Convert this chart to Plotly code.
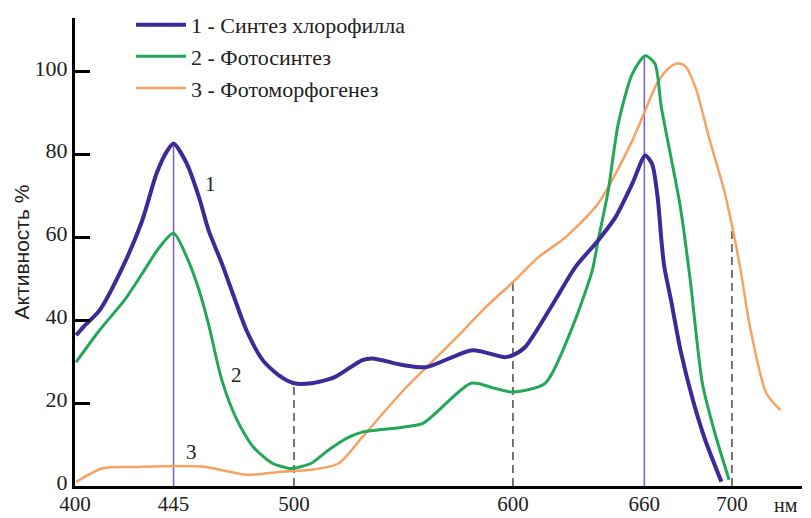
import plotly.graph_objects as go

# ---- data (wavelength nm, activity %) ----
chl_x = [400.5, 404.0, 411.2, 422.5, 430.7, 437.2, 442.1, 445.0, 451.1, 456.7, 461.0, 467.1, 472.7,
         478.3, 485.7, 493.1, 500.0, 507.9, 518.6, 531.2, 535.8, 549.8, 560.5, 581.4, 596.3, 600.0,
         605.5, 619.2, 628.4, 638.9, 646.7, 654.5, 660.4, 663.5, 666.1, 667.8, 669.1, 672.2, 676.5,
         682.2, 687.8, 695.2]
chl_y = [36.4, 38.5, 42.4, 53.7, 64.1, 75.4, 80.9, 82.7, 77.8, 69.6, 61.7, 53.7, 45.5,
         37.6, 30.4, 26.7, 24.8, 24.8, 26.3, 30.4, 30.8, 29.2, 28.7, 32.8, 31.1, 31.6,
         33.5, 44.8, 52.8, 59.3, 64.8, 73.0, 79.8, 77.8, 69.6, 59.3, 53.0, 44.8, 32.8,
         20.7, 11.1, 1.0]

ps_x = [400.5, 411.2, 422.5, 430.7, 438.5, 445.0, 451.1, 456.7, 461.0, 467.1, 474.0, 481.4, 490.1,
        497.4, 500.0, 507.9, 515.8, 525.1, 531.2, 549.8, 559.1, 580.9, 591.6, 600.0, 614.7, 627.1,
        636.2, 638.9, 643.5, 648.1, 654.5, 660.4, 664.8, 667.8, 672.2, 676.5, 680.9, 686.5, 692.2,
        698.7]
ps_y = [29.9, 37.6, 44.8, 51.3, 57.6, 61.0, 55.2, 47.2, 39.0, 25.5, 15.9, 9.4, 5.5,
        4.3, 4.3, 5.5, 8.7, 11.8, 13.0, 14.2, 15.2, 24.8, 23.6, 22.7, 24.8, 38.3,
        52.0, 59.3, 71.3, 87.5, 99.5, 103.9, 102.0, 91.3, 79.3, 67.2, 50.0, 24.8, 12.8,
        1.5]

pm_x = [400.5, 412.7, 428.9, 445.4, 459.7, 478.3, 493.1, 507.9, 520.5, 531.2, 549.8, 573.0, 588.4,
        600.0, 611.5, 623.9, 638.9, 654.5, 666.1, 671.0, 675.0, 678.5, 683.5, 689.6, 696.5, 700.0,
        704.0, 708.3, 715.7, 722.2]
pm_y = [1.0, 4.3, 4.6, 4.8, 4.6, 2.7, 3.4, 3.9, 5.5, 11.8, 23.0, 35.2, 43.6,
        49.2, 55.2, 60.0, 68.2, 83.4, 97.5, 100.8, 102.0, 101.5, 96.0, 84.0, 71.3, 63.0,
        52.0, 38.3, 22.4, 18.3]

series_names = ["1 - Синтез хлорофилла", "2 - Фотосинтез", "3 - Фотоморфогенез"]

# reference verticals: x, top value, kind
ref_x = [445, 500, 600, 660, 700]
ref_top = [82.7, 24.8, 49.6, 103.9, 62.4]
ref_kind = ["solid", "dash", "dash", "solid", "dash"]

x_ticks = [400, 445, 500, 600, 660, 700]
y_ticks = [0, 20, 40, 60, 80, 100]

curve_labels = ["1", "2", "3"]
curve_label_x = [462, 473.6, 453.2]
curve_label_y = [73, 26.7, 8.2]

SERIF = "Liberation Serif, Times New Roman, serif"
SANS = "Liberation Sans, Arial, sans-serif"

fig = go.Figure()

for xv, top, kind in zip(ref_x, ref_top, ref_kind):
    if kind == "solid":
        fig.add_trace(go.Scatter(x=[xv, xv], y=[0, top], mode="lines",
                                 line=dict(color="#7b5cc8", width=1.5),
                                 showlegend=False, hoverinfo="skip"))
    else:
        fig.add_trace(go.Scatter(x=[xv, xv], y=[0, top], mode="lines",
                                 line=dict(color="#555555", width=1.6, dash="8px,5px"),
                                 showlegend=False, hoverinfo="skip"))

fig.add_trace(go.Scatter(x=pm_x, y=pm_y, mode="lines", name=series_names[2],
                         line=dict(color="#f5a262", width=2.5, shape="spline", smoothing=0.7)))
fig.add_trace(go.Scatter(x=ps_x, y=ps_y, mode="lines", name=series_names[1],
                         line=dict(color="#23a85a", width=3, shape="spline", smoothing=0.7)))
fig.add_trace(go.Scatter(x=chl_x, y=chl_y, mode="lines", name=series_names[0],
                         line=dict(color="#3b2a98", width=4, shape="spline", smoothing=0.7)))

for t, xv, yv in zip(curve_labels, curve_label_x, curve_label_y):
    fig.add_annotation(x=xv, y=yv, text=t, showarrow=False,
                       font=dict(family=SERIF, size=21, color="#222"))

fig.add_annotation(xref="paper", yref="paper", x=0.978, y=0, xanchor="center", yanchor="middle",
                   yshift=-19, text="нм", showarrow=False,
                   font=dict(family=SERIF, size=20, color="#222"))

fig.update_layout(
    width=811, height=518,
    margin=dict(l=75, r=9, t=18, b=32, autoexpand=False),
    paper_bgcolor="white", plot_bgcolor="white",
    font=dict(family=SERIF, size=22, color="#222"),
    legend=dict(x=0.077, y=1.03, xanchor="left", yanchor="top", traceorder="reversed",
                itemwidth=50,
                font=dict(family=SERIF, size=22, color="#222"), bgcolor="rgba(0,0,0,0)"),
    xaxis=dict(range=[400, 732], tickvals=x_ticks, ticktext=[str(v) for v in x_ticks],
               ticks="", showline=True, linewidth=3, linecolor="black", automargin=False,
               ticklabelstandoff=-3,
               showgrid=False, zeroline=False, tickfont=dict(family=SERIF, size=21, color="#222")),
    yaxis=dict(range=[0, 113], tickvals=y_ticks, ticks="inside", ticklen=15, tickwidth=3,
               tickcolor="black", showline=True, linewidth=3, linecolor="black",
               automargin=False, ticklabelshift=-4,
               showgrid=False, zeroline=False, tickfont=dict(family=SERIF, size=22, color="#222")),
)
fig.update_yaxes(title=dict(text="Активность %", font=dict(family=SANS, size=21, color="#222"),
                            standoff=0))

fig.write_html("out.html", config={"displayModeBar": False},
               post_script="document.body.style.margin='0';document.body.style.overflow='hidden';")
